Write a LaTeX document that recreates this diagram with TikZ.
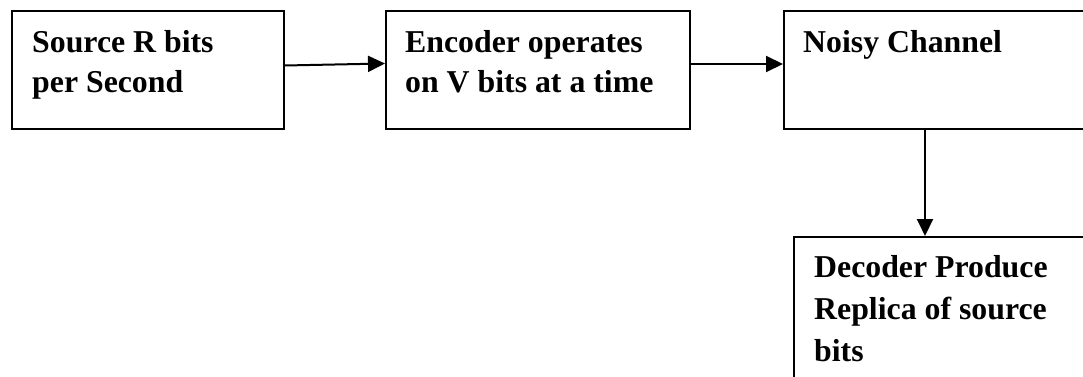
\documentclass[tikz,border=0pt]{standalone}
\usepackage{fontspec}
\setmainfont{Liberation Serif}
\usetikzlibrary{arrows.meta,calc}
\tikzset{
  blockbox/.style={draw=black, line width=2pt, rectangle, anchor=north west, inner sep=0pt},
  blocktext/.style={anchor=north west, inner sep=0pt, align=left, font=\bfseries\fontsize{31.8}{39.5}\selectfont},
  lowtext/.style={blocktext, font=\bfseries\fontsize{31.8}{42}\selectfont},
  flow/.style={line width=2pt, -{Triangle[length=17pt,width=16pt]}}
}
\begin{document}
\begin{tikzpicture}[x=1pt,y=-1pt]
\useasboundingbox (0,0) rectangle (1083,377);
\clip (0,0) rectangle (1083,377);
% blocks of the transmission chain
\node[blockbox, minimum width=272pt, minimum height=118pt] (b1) at (11,10) {};
\node[blockbox, minimum width=304pt, minimum height=118pt] (b2) at (385,10) {};
\node[blockbox, minimum width=330pt, minimum height=118pt] (b3) at (783,10) {};
\node[blockbox, minimum width=330pt, minimum height=170pt] (b4) at (793,236) {};
% block labels
\node[blocktext] (t1) at (32,30.5) {Source R bits\\per Second};
\node[blocktext] (t2) at (405,30.5) {Encoder operates\\on V bits at a time};
\node[blocktext] (t3) at (803,30.5) {Noisy Channel};
\node[lowtext] (t4) at (814,255.5) {Decoder Produce\\Replica of source\\bits};
% connectors
\draw[flow] ([yshift=4.5pt]b1.east) -- ([yshift=6.5pt]b2.west);
\draw[flow] ([yshift=6pt]b2.east) -- ([yshift=6pt]b3.west);
\coordinate (dn) at ($(b4.north west)+(132,0)$);
\draw[flow] (dn |- b3.south) -- (dn);
\end{tikzpicture}
\end{document}
